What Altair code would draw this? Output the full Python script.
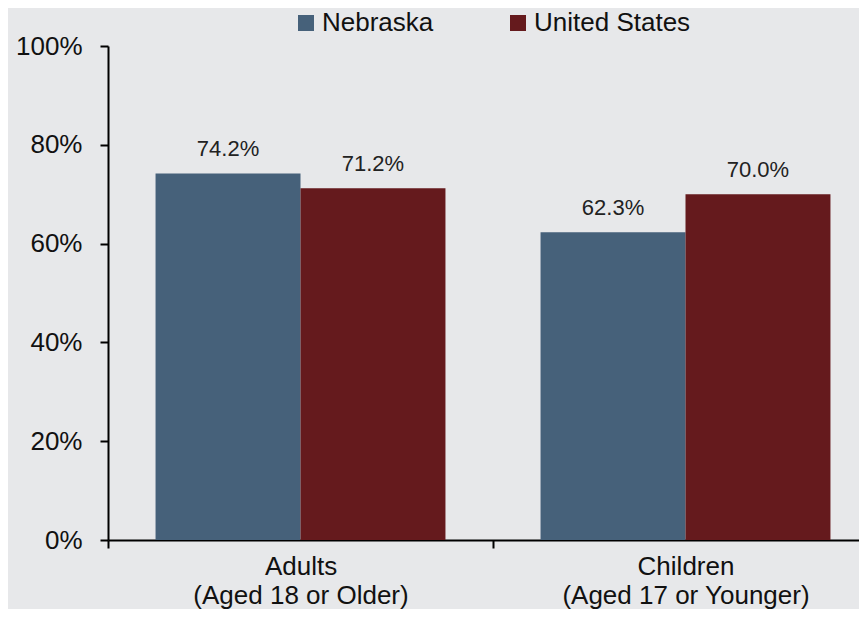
import altair as alt
import pandas as pd

categories = ["Adults\n(Aged 18 or Older)", "Children\n(Aged 17 or Younger)"]
series = ["Nebraska", "United States"]
nebraska = [74.2, 62.3]
united_states = [71.2, 70.0]

rows = []
for i, c in enumerate(categories):
    rows.append({"cat": c, "series": "Nebraska", "value": nebraska[i] / 100})
    rows.append({"cat": c, "series": "United States", "value": united_states[i] / 100})
df = pd.DataFrame(rows)

FONT = "Liberation Sans"
colors = ["#46617A", "#651A1D"]

base = alt.Chart(df).encode(
    x=alt.X("cat:N", sort=categories, title=None,
            scale=alt.Scale(paddingInner=0, paddingOuter=0, range=[0, 770]),
            axis=alt.Axis(labelAngle=0, labelExpr="split(datum.label, '\\n')",
                          tickBand="extent", tickSize=8, tickColor="#000", tickWidth=2,
                          domainColor="#000", domainWidth=2, labelFontSize=26,
                          labelFont=FONT, labelColor="#111", labelPadding=5,
                          labelLineHeight=29, labelLimit=500)),
    xOffset=alt.XOffset("series:N", sort=series,
                        scale=alt.Scale(paddingInner=0, paddingOuter=0.328)),
)

bars = base.mark_bar().encode(
    y=alt.Y("value:Q", title=None,
            scale=alt.Scale(domain=[0, 1], nice=False),
            axis=alt.Axis(format=".0%", values=[0, 0.2, 0.4, 0.6, 0.8, 1.0], grid=False,
                          tickSize=8, tickColor="#000", tickWidth=2,
                          domainColor="#000", domainWidth=2, labelFontSize=26,
                          labelFont=FONT, labelColor="#111", labelPadding=18)),
    color=alt.Color("series:N", sort=series, title=None,
                    scale=alt.Scale(domain=series, range=colors),
                    legend=alt.Legend(orient="none", legendX=185, legendY=-36,
                                      direction="horizontal", symbolType="square",
                                      symbolSize=256, symbolStrokeWidth=0,
                                      labelFontSize=26, labelFont=FONT,
                                      labelColor="#111", columnPadding=71,
                                      labelOffset=3, labelLimit=400)),
)

labels = base.mark_text(dy=-17, baseline="alphabetic", fontSize=22, font=FONT, color="#222").encode(
    y=alt.Y("value:Q"),
    text=alt.Text("value:Q", format=".1%"),
)

chart = (bars + labels).properties(
    width=751, height=494, background="#E7E8EA",
    padding={"left": 100, "top": 38, "right": 0, "bottom": 69},
    autosize=alt.AutoSizeParams(type="none"),
).configure_view(stroke=None)

chart.save("out.html", embed_options={"renderer": "svg", "actions": False})
